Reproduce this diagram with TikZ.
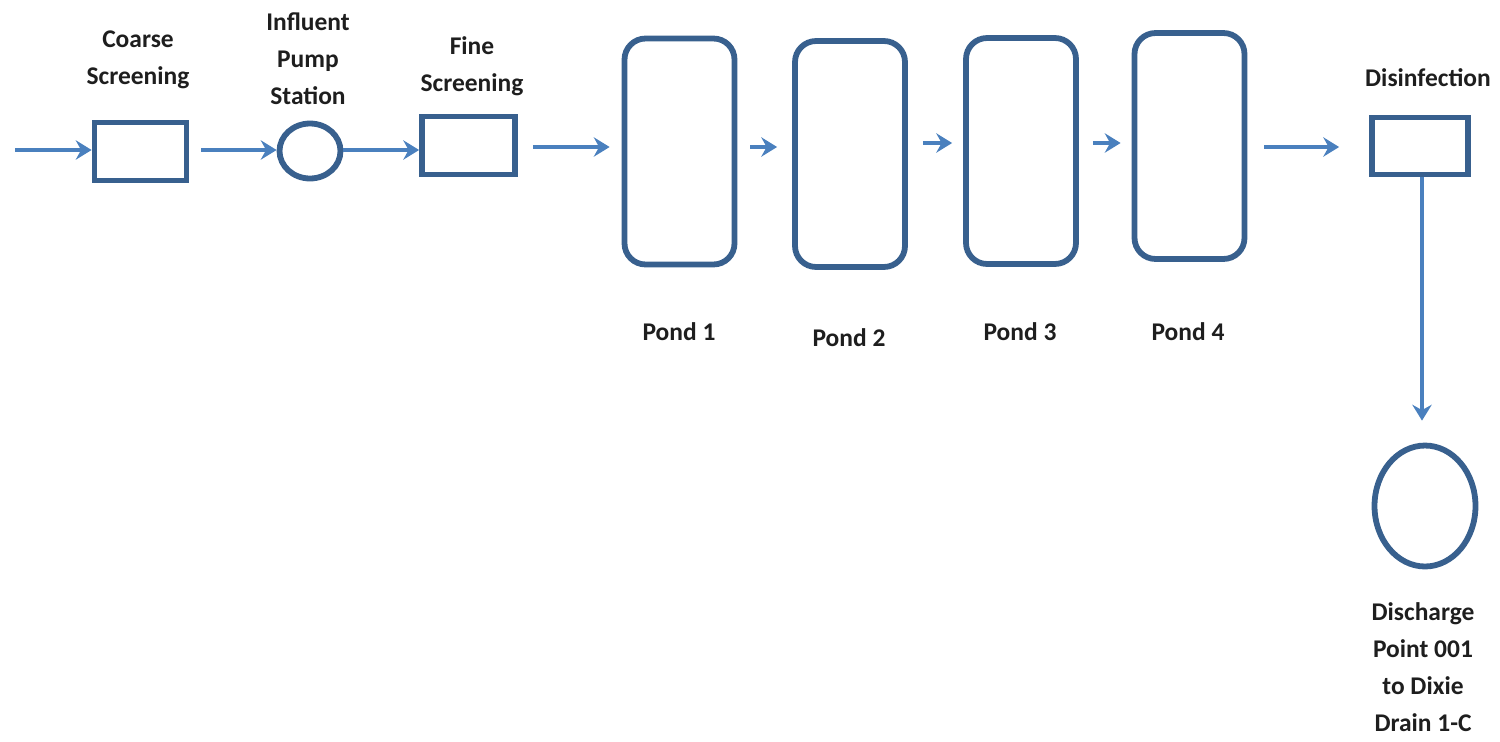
\documentclass[tikz,border=0pt]{standalone}
\usepackage{fontspec}
\setmainfont{Carlito}
\usetikzlibrary{arrows.meta,shapes.geometric}
\definecolor{boxblue}{HTML}{38608E}
\definecolor{flowblue}{HTML}{4A80BE}
\definecolor{txt}{HTML}{1E1E1E}
\tikzset{
  unitbox/.style={draw=boxblue, line width=3.3pt, inner sep=0pt},
  pondbox/.style={draw=boxblue, line width=3.3pt, rounded corners=0.42cm, inner sep=0pt,
     minimum width=2.2cm, minimum height=4.52cm},
  flow/.style={draw=flowblue, line width=2.2pt, -{Stealth[length=9pt,width=11pt,inset=3pt]}},
  lbl/.style={text=txt, font=\fontsize{14.5}{21}\selectfont\bfseries, align=center, inner sep=0pt}
}
\begin{document}
\begin{tikzpicture}[x=0.02cm,y=-0.02cm]
\useasboundingbox (0,0) rectangle (1500,741);
% unit boxes
\node[unitbox, minimum width=1.84cm, minimum height=1.16cm] (coarse) at (140.5,151.5) {};
\node[unitbox, ellipse, minimum width=1.22cm, minimum height=1.1cm] (pump) at (310,151) {};
\node[unitbox, minimum width=1.86cm, minimum height=1.16cm] (fine) at (468.5,145.5) {};
\node[pondbox] (p1) at (679.5,151.5) {};
\node[pondbox] (p2) at (850,154) {};
\node[pondbox] (p3) at (1021,151) {};
\node[pondbox] (p4) at (1189.5,146) {};
\node[unitbox, minimum width=1.92cm, minimum height=1.14cm] (dis) at (1420,146) {};
\node[unitbox, ellipse, minimum width=2.02cm, minimum height=2.42cm] (out) at (1425,506) {};
% labels
\node[lbl] (lcoarse) at (138,60) {Coarse\\Screening};
\node[lbl] (lpump) at (308,59) {Influent\\Pump\\Station};
\node[lbl] (lfine) at (472,66) {Fine\\Screening};
\node[lbl] (l1) at (679,332) {Pond 1};
\node[lbl] (l2) at (849,338) {Pond 2};
\node[lbl] (l3) at (1020,332) {Pond 3};
\node[lbl] (l4) at (1188,332) {Pond 4};
\node[lbl] (ldis) at (1428,78) {Disinfection};
\node[lbl] (lout) at (1423,667) {Discharge\\Point 001\\to Dixie\\Drain 1-C};
% connectors
\coordinate (inlet) at (15,150);
\coordinate (ya) at (0,150);
\coordinate (yb) at (0,147);
\coordinate (yc) at (0,143);
\coordinate (xv) at (1422,0);
\draw[flow] (inlet) -- (coarse.west |- inlet);
\draw[flow, shorten <=0.24cm] (coarse.east |- ya) -- (pump.west |- ya);
\draw[flow] (pump.east |- ya) -- (fine.west |- ya);
\draw[flow, shorten <=0.3cm, shorten >=0.24cm] (fine.east |- yb) -- (p1.west |- yb);
\draw[flow, shorten <=0.26cm, shorten >=0.3cm] (p1.east |- yb) -- (p2.west |- yb);
\draw[flow, shorten <=0.3cm, shorten >=0.22cm] (p2.east |- yc) -- (p3.west |- yc);
\draw[flow, shorten <=0.28cm, shorten >=0.22cm] (p3.east |- yc) -- (p4.west |- yc);
\draw[flow, shorten <=0.34cm, shorten >=0.6cm] (p4.east |- yb) -- (dis.west |- yb);
\draw[flow, shorten >=0.44cm] (xv |- dis.south) -- (xv |- out.north);
\end{tikzpicture}
\end{document}
